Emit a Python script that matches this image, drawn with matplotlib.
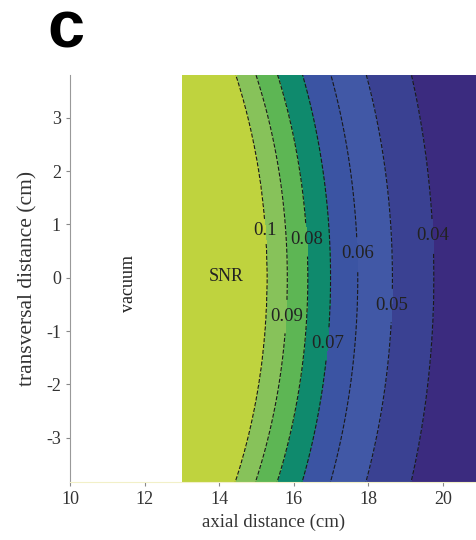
import numpy as np
import matplotlib
matplotlib.use('Agg')
import matplotlib.pyplot as plt

plt.rcParams['font.family'] = ['Liberation Serif', 'DejaVu Serif']
plt.rcParams['axes.unicode_minus'] = False

# contour levels and where each boundary crosses the axis (y=0) and the edges (y=+-3.8)
levels = [0.1, 0.09, 0.08, 0.07, 0.06, 0.05, 0.04]
x_center = [15.29, 15.83, 16.38, 16.99, 17.72, 18.65, 19.76]
x_edge = [14.45, 14.99, 15.57, 16.24, 17.0, 17.95, 19.16]
y_edge = 3.8
vacuum_end = 13.03

band_colors = ['#3b2b7f', '#3a4192', '#4158a6', '#3b54a3', '#0f8a6d', '#5db654', '#87c25a', '#bfd33e']

# label positions (data coords)
label_pos = [(15.27, 0.88), (15.81, -0.73), (16.35, 0.71), (16.9, -1.24),
             (17.84, 0.45), (18.78, -0.53), (19.81, 0.79)]

xs = np.linspace(vacuum_end, 21.2, 500)
ys = np.linspace(-3.9, 3.9, 300)
X, Y = np.meshgrid(xs, ys)
Z = np.zeros_like(X)

# each boundary is a circular arc through the centre point and the two edge points
xc = np.array(x_center)
d = xc - np.array(x_edge)
r = (d**2 + y_edge**2) / (2 * d)
for i, yy in enumerate(ys):
    xb = xc - r + np.sqrt(r**2 - yy**2)
    xp = np.concatenate([[vacuum_end - 0.5], xb, [22.0]])
    fp = np.concatenate([[0.115], levels, [0.03]])
    Z[i] = np.interp(xs, xp, fp)

fig = plt.figure(figsize=(4.77, 5.40), dpi=100)
ax = fig.add_axes([70/477, 1 - 482/540, 1 - 70/477, (482 - 75)/540])

bounds = [0, 0.04, 0.05, 0.06, 0.07, 0.08, 0.09, 0.1, 1]
ax.contourf(X, Y, Z, levels=bounds, colors=band_colors)
cs = ax.contour(X, Y, Z, levels=sorted(levels), colors='#1a1a1a',
                linestyles='--', linewidths=0.8)
texts = ax.clabel(cs, fmt='%g', fontsize=13.5, inline=True, inline_spacing=0,
                  colors='#222222', manual=label_pos)
for t in texts:
    t.set_rotation(0)

ax.text(14.2, 0.02, 'SNR', fontsize=13, ha='center', va='center', color='#222222')
ax.text(11.58, -0.1, 'vacuum', fontsize=13, ha='center', va='center',
        rotation=90, color='#222222')

ax.set_xlim(10, 20.92)
ax.set_ylim(-3.83, 3.8)
ax.set_xticks([10, 12, 14, 16, 18, 20])
ax.set_yticks([-3, -2, -1, 0, 1, 2, 3])
ax.tick_params(direction='out', length=3, width=0.8, color='#888888',
               labelsize=13, labelcolor='#333333')
for s in ['top', 'right']:
    ax.spines[s].set_visible(False)
ax.spines['left'].set_color('#999999')
ax.spines['bottom'].set_color('#f2f0c8')

ax.set_xlabel('axial distance (cm)', fontsize=13.5, color='#333333', labelpad=4)
ax.set_ylabel('transversal distance (cm)', fontsize=15.5, color='#333333', labelpad=6)

fig.text(66/477, 1 - 30/540, 'c', fontsize=48, fontweight='bold',
         family='Liberation Sans', ha='center', va='center')

fig.savefig('out.png', dpi=100)
